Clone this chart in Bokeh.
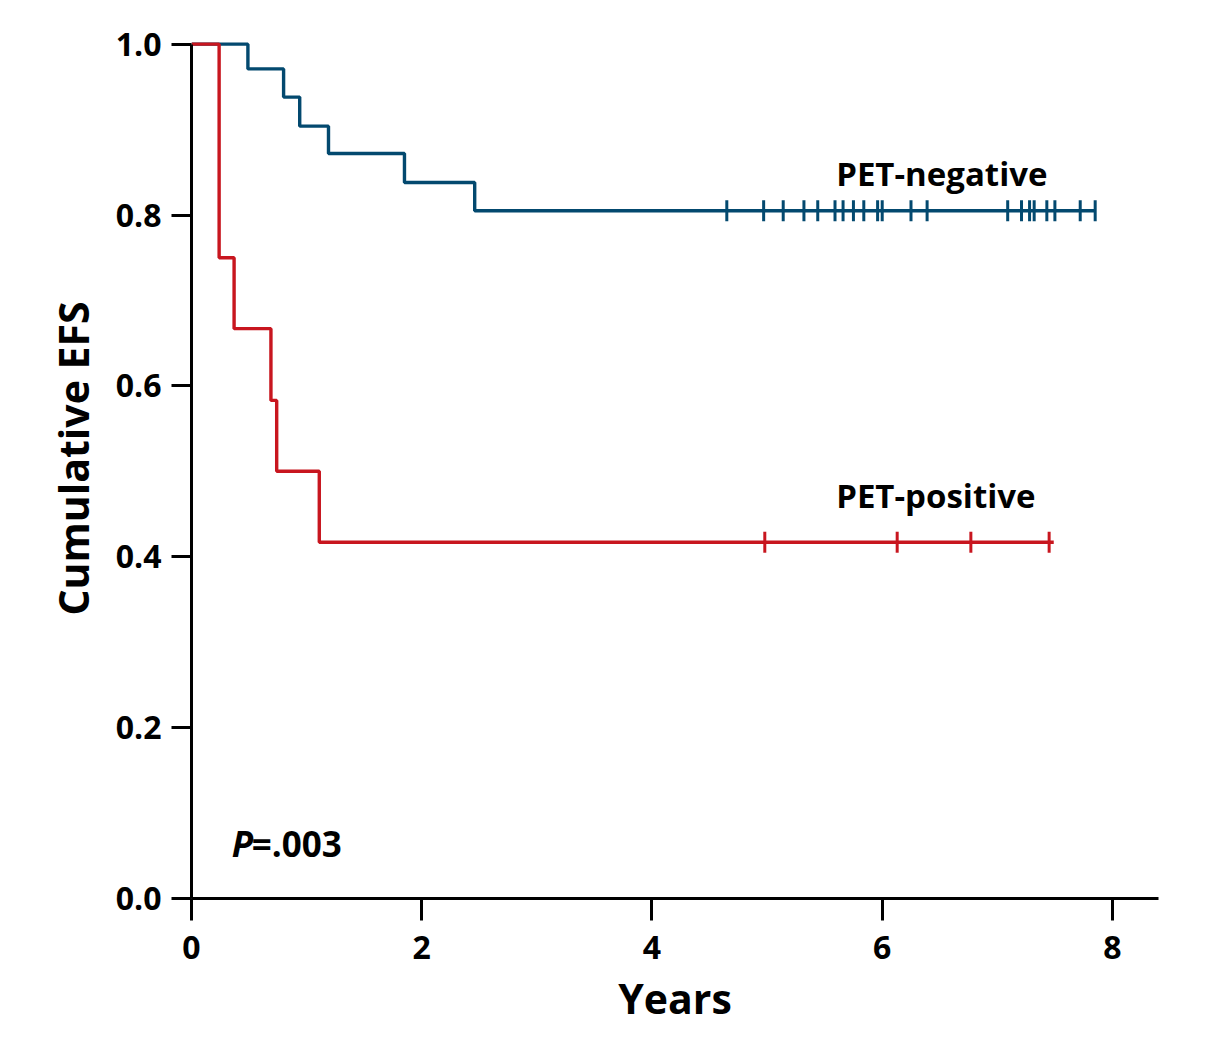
import numpy as np
from bokeh.plotting import figure
from bokeh.models import Range1d, FixedTicker, NumeralTickFormatter
from bokeh.core.properties import value
from bokeh.embed import file_html
from bokeh.resources import INLINE

# ---- data ----
neg_time = [0.0, 0.49, 0.80, 0.94, 1.19, 1.85, 2.46, 7.85]
neg_surv = [1.0, 0.971, 0.938, 0.904, 0.872, 0.838, 0.805, 0.805]
neg_censor_time = [4.65, 4.97, 5.14, 5.32, 5.44, 5.59, 5.66, 5.75, 5.84, 5.96, 6.00,
                   6.25, 6.39, 7.09, 7.21, 7.28, 7.32, 7.43, 7.50, 7.72, 7.85]
neg_censor_surv = [0.805] * len(neg_censor_time)

pos_time = [0.0, 0.24, 0.37, 0.69, 0.74, 1.11, 7.49]
pos_surv = [1.0, 0.75, 0.667, 0.583, 0.5, 0.417, 0.417]
pos_censor_time = [4.98, 6.13, 6.77, 7.45]
pos_censor_surv = [0.417] * len(pos_censor_time)

x_ticks = [0, 2, 4, 6, 8]
y_ticks = [0.0, 0.2, 0.4, 0.6, 0.8, 1.0]

labels = ["PET-negative", "PET-positive"]
label_x = [5.60, 5.60]
label_y = [0.849, 0.472]
p_label = ["P", "=.003"]

BLUE = "#03496f"
RED = "#c8161f"
FONT = "Open Sans"

p = figure(frame_width=967, frame_height=880,
           min_border_left=191, min_border_top=18, min_border_right=55, min_border_bottom=140,
           x_range=Range1d(0, 8.4), y_range=Range1d(0, 1.03),
           output_backend="svg", toolbar_location=None,
           background_fill_color="white", border_fill_color="white")
p.outline_line_color = None
p.grid.visible = False

# axes
for ax in (p.xaxis[0], p.yaxis[0]):
    ax.axis_line_width = 3
    ax.axis_line_color = "black"
    ax.major_tick_line_width = 3
    ax.major_tick_line_color = "black"
    ax.major_tick_in = 0
    ax.minor_tick_line_color = None
    ax.major_label_text_font = FONT
    ax.major_label_text_font_style = "bold"
    ax.major_label_text_font_size = "32px"
    ax.major_label_text_color = "black"
    ax.axis_label_text_font = FONT
    ax.axis_label_text_font_style = "bold"
    ax.axis_label_text_font_size = "41px"
    ax.axis_label_text_color = "black"

p.xaxis.ticker = FixedTicker(ticks=x_ticks)
p.xaxis.bounds = (0, 8.4)
p.xaxis.major_tick_out = 22
p.xaxis.major_label_standoff = 15
p.xaxis.axis_label = "Years"
p.xaxis.axis_label_standoff = 8

p.yaxis.ticker = FixedTicker(ticks=y_ticks)
p.yaxis.bounds = (0, 1)
p.yaxis.formatter = NumeralTickFormatter(format="0.0")
p.yaxis.major_tick_out = 20
p.yaxis.major_label_standoff = 10
p.yaxis.axis_label = "Cumulative EFS"
p.yaxis.axis_label_standoff = 12

# curves
p.step(neg_time, neg_surv, mode="after", line_color=BLUE, line_width=3.4)
p.scatter(neg_censor_time, neg_censor_surv, marker="dash", angle=np.pi / 2, size=21,
          line_color=BLUE, line_width=3)
p.step(pos_time, pos_surv, mode="after", line_color=RED, line_width=3.4)
p.scatter(pos_censor_time, pos_censor_surv, marker="dash", angle=np.pi / 2, size=21,
          line_color=RED, line_width=3)

# labels
p.text(x=label_x, y=label_y, text=labels, text_font=value(FONT), text_font_style="bold",
       text_font_size="33px", text_color="black", text_baseline="alphabetic", text_align="left")
p.text(x=[0.35], y=[0.064], text=[p_label[0]], text_font=value(FONT),
       text_font_style="bold italic", text_font_size="35px", text_color="black",
       text_baseline="alphabetic")
p.text(x=[0.35], y=[0.064], text=[p_label[1]], text_font=value(FONT), x_offset=20,
       text_font_style="bold", text_font_size="35px", text_color="black",
       text_baseline="alphabetic")

open("out.html", "w").write(file_html(p, INLINE))
